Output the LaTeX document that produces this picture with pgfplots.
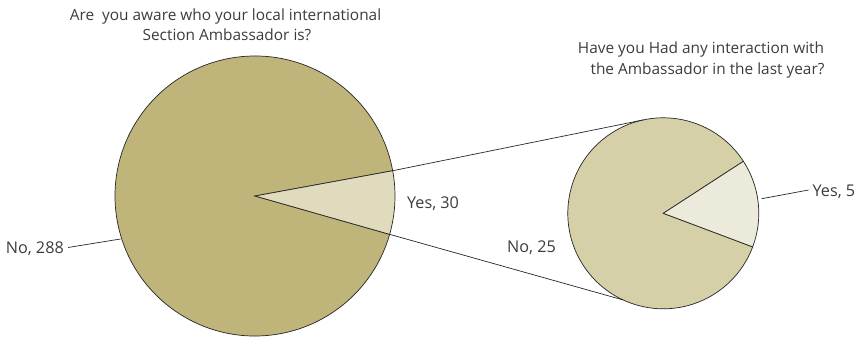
\documentclass[border=0pt]{standalone}
\usepackage{pgfplots}
\pgfplotsset{compat=1.18}
\usetikzlibrary{calc}
\usepackage{fontspec}
\setmainfont{Open Sans}
\definecolor{bigno}{RGB}{191,181,122}
\definecolor{bigyes}{RGB}{223,219,188}
\definecolor{smallno}{RGB}{213,208,167}
\definecolor{smallyes}{RGB}{236,234,218}
\definecolor{txt}{RGB}{60,60,60}
% data: value, slice start angle, slice end angle
% big pie: No 288, Yes 30 ; small pie: No 25, Yes 5
\def\bigX{255}\def\bigY{196}\def\bigR{140}
\def\bigYesA{-15.9}\def\bigYesB{10.4}
\def\smX{663.3}\def\smY{213.3}\def\smR{95.5}
\def\smYesA{-20.6}\def\smYesB{33}
\begin{document}
\begin{tikzpicture}
\begin{axis}[scale only axis, width=862pt, height=337pt,
  xmin=0, xmax=862, ymin=0, ymax=337, y dir=reverse,
  hide axis, clip=false]
\path (axis cs:0,0) rectangle (axis cs:862,337);
% big pie
\filldraw[fill=bigno, draw=black!85, line width=0.7pt]
  (axis cs:\bigX,\bigY) -- ++(\bigYesB:\bigR pt)
  arc[start angle=\bigYesB, end angle=360+\bigYesA, radius=\bigR pt] -- cycle;
\filldraw[fill=bigyes, draw=black!85, line width=0.7pt]
  (axis cs:\bigX,\bigY) -- ++(\bigYesA:\bigR pt)
  arc[start angle=\bigYesA, end angle=\bigYesB, radius=\bigR pt] -- cycle;
% small pie
\filldraw[fill=smallno, draw=black!85, line width=0.7pt]
  (axis cs:\smX,\smY) -- ++(\smYesB:\smR pt)
  arc[start angle=\smYesB, end angle=360+\smYesA, radius=\smR pt] -- cycle;
\filldraw[fill=smallyes, draw=black!85, line width=0.7pt]
  (axis cs:\smX,\smY) -- ++(\smYesA:\smR pt)
  arc[start angle=\smYesA, end angle=\smYesB, radius=\smR pt] -- cycle;
% connectors
\draw[black!85, line width=0.7pt] ($(axis cs:\bigX,\bigY)+(\bigYesB:\bigR pt)$) -- ($(axis cs:\smX,\smY)+(102:\smR pt)$);
\draw[black!85, line width=0.7pt] ($(axis cs:\bigX,\bigY)+(\bigYesA:\bigR pt)$) -- ($(axis cs:\smX,\smY)+(245.2:\smR pt)$);
% leader lines
\draw[black!85, line width=0.7pt] (axis cs:68,247.5) -- (axis cs:120.5,239);
\draw[black!85, line width=0.7pt] (axis cs:761.7,198.7) -- (axis cs:808.5,190);
% labels
\begin{scope}[every node/.style={font=\fontsize{16.2}{20}\selectfont, text=txt, inner sep=0pt}]
\node[anchor=base east] at (axis cs:64,253.3) {No, 288};
\node[anchor=base west] at (axis cs:407,208) {Yes, 30};
\node[anchor=base west] at (axis cs:507,252.3) {No, 25};
\node[anchor=base west] at (axis cs:812.5,196.7) {Yes, 5};
\end{scope}
\begin{scope}[every node/.style={font=\fontsize{15.4}{20}\selectfont, text=txt, inner sep=0pt, anchor=base}]
\node at (axis cs:225.5,20.7) {Are\ \ you aware who your local international};
\node at (axis cs:227,40.7) {Section Ambassador is?};
\node at (axis cs:701,53.3) {Have you Had any interaction with};
\node at (axis cs:707.5,74.3) {the Ambassador in the last year?};
\end{scope}
\end{axis}
\end{tikzpicture}
\end{document}
